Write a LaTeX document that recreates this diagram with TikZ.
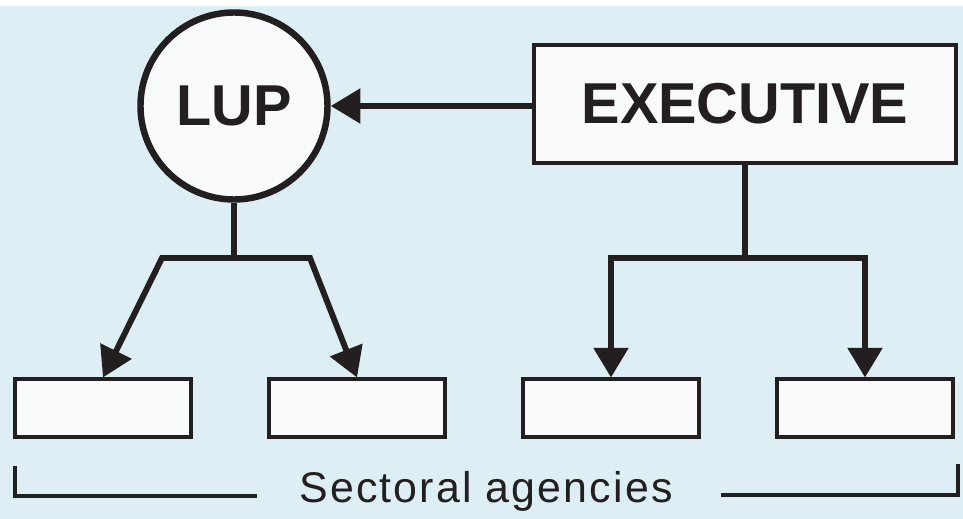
\documentclass[tikz,border=0pt]{standalone}
\usepackage{fontspec}
\setmainfont{Liberation Sans}
\newfontfamily\spaced[LetterSpace=5]{Liberation Sans}
\usetikzlibrary{arrows.meta}
\definecolor{paper}{RGB}{221,238,245}
\definecolor{ink}{RGB}{35,30,32}
\definecolor{boxfill}{RGB}{248,250,252}
\begin{document}
\begin{tikzpicture}
            [x=0.025cm,y=-0.025cm,
             ln/.style={draw=ink,line width=4.2pt,line join=miter},
             arr/.style={ln,-{Triangle[length=21pt,width=24pt]}},
             agency/.style={rectangle,draw=ink,fill=boxfill,line width=2.4pt,minimum width=125pt,minimum height=41pt,inner sep=0pt},
             brace/.style={draw=ink,line width=2.4pt}]
            \fill[white] (0,0) rectangle (963,519);
            \fill[paper] (0,6) rectangle (963,519);

            \node[circle,draw=ink,fill=boxfill,line width=4.6pt,minimum size=133pt,inner sep=0pt,font=\fontsize{41}{41}\bfseries\selectfont,text=ink] (lup) at (234,106) {LUP};
            \node[rectangle,draw=ink,fill=boxfill,line width=2.8pt,minimum width=300pt,minimum height=84pt,inner sep=0pt,font=\fontsize{41}{41}\bfseries\selectfont,text=ink] (exec) at (745,104) {EXECUTIVE};

            \node[agency] (a1) at (103,408) {};
            \node[agency] (a2) at (357,408) {};
            \node[agency] (a3) at (611,408) {};
            \node[agency] (a4) at (865,408) {};

            \coordinate (lj) at (234,258);
            \coordinate (ll) at (162,258);
            \coordinate (lr) at (310,258);
            \coordinate (ej) at (745,258);

            \draw[arr] (exec.west |- lup) -- (lup);
            \draw[ln] (lup.south) -- (lj);
            \draw[arr] (lj) -- (ll) -- (a1.north);
            \draw[arr] (lj) -- (lr) -- (a2.north);
            \draw[ln] (exec.south) -- (ej);
            \draw[arr] (ej) -| (a3.north);
            \draw[arr] (ej) -| (a4.north);

            \node[anchor=base,inner sep=0pt,text=ink,font=\fontsize{30.5}{30.5}\spaced\selectfont] (sect) at (486,502) {Sectoral agencies};
            \coordinate (bl) at (15,466);
            \coordinate (br) at (958,464);
            \draw[brace] (bl) |- ([xshift=-30pt]sect.west |- 0,496);
            \draw[brace] ([xshift=34pt]sect.east |- 0,495) -| (br);
        \end{tikzpicture}
\end{document}
